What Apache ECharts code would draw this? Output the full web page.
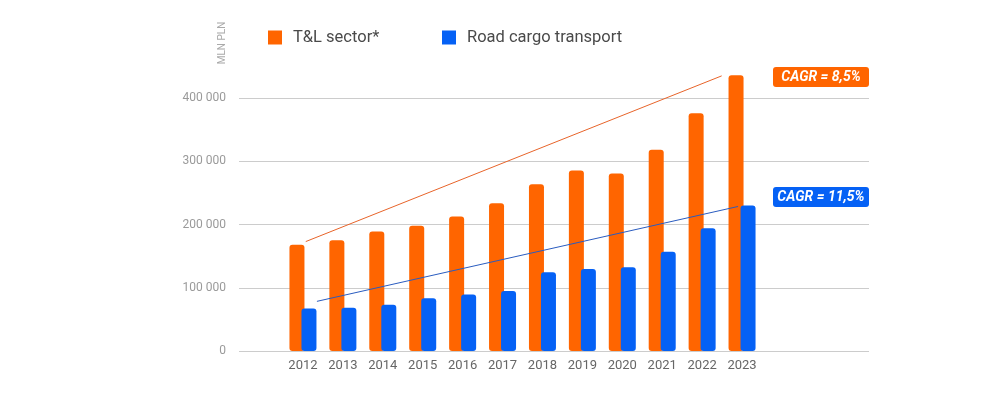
<!DOCTYPE html>
<html>
<head>
<meta charset="utf-8">
<script src="https://cdn.jsdelivr.net/npm/echarts@6/dist/echarts.min.js"></script>
<style>
html,body{margin:0;padding:0;background:#fff;}
#chart{width:985px;height:394px;}
</style>
</head>
<body>
<div id="chart"></div>
<script>
var years = ['2012','2013','2014','2015','2016','2017','2018','2019','2020','2021','2022','2023'];
var tlSector = [168000, 175000, 189000, 198000, 212500, 233500, 263500, 285500, 280500, 318000, 376000, 436000];
var roadCargo = [67000, 68500, 73000, 83500, 89500, 95000, 124500, 129500, 132500, 157000, 194000, 230000];
// trend lines: [category position, value]
var tlTrend = [[0.07, 173000], [10.49, 435000]];
var roadTrend = [[0.35, 78500], [10.9, 228500]];
var yTicks = [0, 100000, 200000, 300000, 400000];
var cagrLabels = ['CAGR = 8,5%', 'CAGR = 11,5%'];

var ORANGE = '#ff6500';
var BLUE = '#0561f5';
var FONT = 'Roboto';

function fmt(v){ return String(v).replace(/\B(?=(\d{3})+(?!\d))/g, ' '); }

var chart = echarts.init(document.getElementById('chart'), null, {renderer:'canvas'});
var option = {
  backgroundColor: '#fff',
  animation: false,
  textStyle: {fontFamily: FONT},
  legend: [
    {left: 263, top: 24, itemWidth: 14, itemHeight: 14, icon: 'rect',
     data: ['T&L sector*'],
     textStyle: {fontFamily: FONT, fontSize: 16.5, color: '#4a4a4a', padding: [0,0,0,6]}},
    {left: 437, top: 24, itemWidth: 14, itemHeight: 14, icon: 'rect',
     data: ['Road cargo transport'],
     textStyle: {fontFamily: FONT, fontSize: 16.5, color: '#4a4a4a', padding: [0,0,0,6]}}
  ],
  grid: [
    {left: 239, right: 116, top: 98, bottom: 43},
    {left: 283, right: 223, top: 98, bottom: 43}
  ],
  xAxis: [
    {type: 'category', gridIndex: 0, data: years, show: false},
    {type: 'category', gridIndex: 1, data: years,
     axisLine: {show: false}, axisTick: {show: false},
     axisLabel: {color: '#666', fontSize: 13, margin: 8, fontFamily: FONT}},
    {type: 'value', gridIndex: 1, min: -0.5, max: 11.5, show: false}
  ],
  yAxis: [
    {type: 'value', gridIndex: 0, min: yTicks[0], max: yTicks[yTicks.length-1], interval: 100000,
     axisLine: {show: false}, axisTick: {show: false},
     splitLine: {lineStyle: {color: '#cccccc', width: 1}},
     axisLabel: {color: '#9a9a9a', fontSize: 12, margin: 13, fontFamily: FONT, formatter: fmt}},
    {type: 'value', gridIndex: 1, min: yTicks[0], max: yTicks[yTicks.length-1], show: false}
  ],
  series: [
    {name: 'T&L sector*', type: 'bar', xAxisIndex: 1, yAxisIndex: 1, data: tlSector,
     barWidth: 15, barGap: '-20%', clip: false,
     itemStyle: {color: ORANGE, borderRadius: 3}},
    {name: 'Road cargo transport', type: 'bar', xAxisIndex: 1, yAxisIndex: 1, data: roadCargo,
     barWidth: 15, barGap: '-20%', clip: false,
     itemStyle: {color: BLUE, borderRadius: 3}},
    {type: 'line', xAxisIndex: 2, yAxisIndex: 1, data: tlTrend, symbol: 'none', clip: false,
     lineStyle: {color: '#e8642a', width: 1}, z: 5, silent: true},
    {type: 'line', xAxisIndex: 2, yAxisIndex: 1, data: roadTrend, symbol: 'none', clip: false,
     lineStyle: {color: '#2a5cc0', width: 1}, z: 5, silent: true}
  ],
  graphic: [
    {type: 'text', x: 222, y: 43, rotation: Math.PI/2,
     style: {text: 'MLN PLN', fill: '#aaaaaa', fontSize: 10, fontFamily: FONT, align: 'center', verticalAlign: 'middle'}},
    {type: 'group', left: 773, top: 67, children: [
      {type: 'rect', shape: {x: 0, y: 0, width: 96, height: 20, r: 3}, style: {fill: ORANGE}},
      {type: 'text', x: 48, y: 10, style: {text: cagrLabels[0], fill: '#fff', fontSize: 14, fontStyle: 'italic', fontWeight: 'bold', fontFamily: FONT, align: 'center', verticalAlign: 'middle'}}
    ]},
    {type: 'group', left: 773, top: 187, children: [
      {type: 'rect', shape: {x: 0, y: 0, width: 96, height: 20, r: 3}, style: {fill: BLUE}},
      {type: 'text', x: 48, y: 10, style: {text: cagrLabels[1], fill: '#fff', fontSize: 14, fontStyle: 'italic', fontWeight: 'bold', fontFamily: FONT, align: 'center', verticalAlign: 'middle'}}
    ]}
  ]
};
chart.setOption(option);
</script>
</body>
</html>
